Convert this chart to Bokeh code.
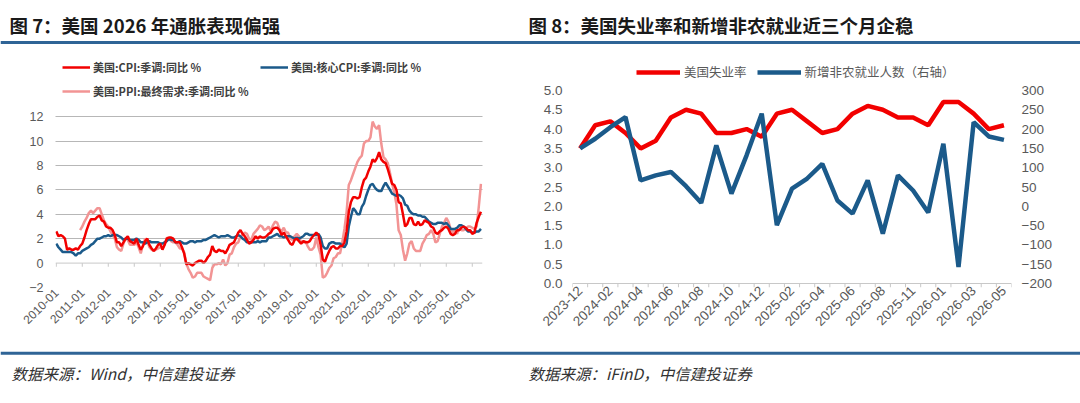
import math
from bokeh.plotting import figure
from bokeh.models import (Range1d, LinearAxis, FixedTicker, Legend, LegendItem, Span,
                          ColumnDataSource)
from bokeh.layouts import column, row
from bokeh.embed import file_html
from bokeh.resources import INLINE
from bokeh.core.properties import value

# ---------------- data: figure 7 (monthly, 2010-01 .. 2026-05) ----------------
cpi_yoy = [
    2.6, 2.2, 2.3, 2.2, 2.0, 1.1, 1.2, 1.1, 1.1, 1.2, 1.1, 1.4,
    1.6, 2.1, 2.7, 3.2, 3.6, 3.6, 3.6, 3.8, 3.9, 3.5, 3.4, 3.0,
    2.9, 2.9, 2.7, 2.3, 1.7, 1.7, 1.4, 1.7, 2.0, 2.2, 1.8, 1.7,
    1.6, 2.0, 1.5, 1.1, 1.4, 1.8, 2.0, 1.5, 1.2, 1.0, 1.2, 1.5,
    1.6, 1.1, 1.5, 2.0, 2.1, 2.1, 2.0, 1.7, 1.7, 1.7, 1.3, 0.8,
    -0.1, 0.0, -0.1, -0.2, 0.0, 0.1, 0.2, 0.2, 0.0, 0.2, 0.5, 0.7,
    1.4, 1.0, 0.9, 1.1, 1.0, 1.0, 0.8, 1.1, 1.5, 1.6, 1.7, 2.1,
    2.5, 2.7, 2.4, 2.2, 1.9, 1.6, 1.7, 1.9, 2.2, 2.0, 2.2, 2.1,
    2.1, 2.2, 2.4, 2.5, 2.8, 2.9, 2.9, 2.7, 2.3, 2.5, 2.2, 1.9,
    1.6, 1.5, 1.9, 2.0, 1.8, 1.6, 1.8, 1.7, 1.7, 1.8, 2.1, 2.3,
    2.5, 2.3, 1.5, 0.3, 0.1, 0.6, 1.0, 1.3, 1.4, 1.2, 1.2, 1.4,
    1.4, 1.7, 2.6, 4.2, 5.0, 5.4, 5.4, 5.3, 5.4, 6.2, 6.8, 7.0,
    7.5, 7.9, 8.5, 8.3, 8.6, 9.1, 8.5, 8.3, 8.2, 7.7, 7.1, 6.5,
    6.4, 6.0, 5.0, 4.9, 4.0, 3.0, 3.2, 3.7, 3.7, 3.2, 3.1, 3.4,
    3.1, 3.2, 3.5, 3.4, 3.3, 3.0, 2.9, 2.5, 2.4, 2.6, 2.7, 2.9,
    3.0, 2.8, 2.4, 2.3, 2.4, 2.7, 2.7, 2.9, 3.0, 2.9, 2.7, 2.7,
    2.4, 2.5, 3.3, 3.8, 4.2,
]
core_cpi_yoy = [
    1.6, 1.3, 1.1, 0.9, 0.9, 0.9, 0.9, 0.9, 0.8, 0.6, 0.8, 0.8,
    1.0, 1.1, 1.2, 1.3, 1.5, 1.6, 1.8, 2.0, 2.0, 2.1, 2.2, 2.2,
    2.3, 2.2, 2.3, 2.3, 2.3, 2.2, 2.1, 1.9, 2.0, 2.0, 1.9, 1.9,
    1.9, 2.0, 1.9, 1.7, 1.7, 1.6, 1.7, 1.8, 1.7, 1.7, 1.7, 1.7,
    1.6, 1.6, 1.7, 1.8, 2.0, 1.9, 1.9, 1.7, 1.7, 1.8, 1.7, 1.6,
    1.6, 1.7, 1.8, 1.8, 1.7, 1.8, 1.8, 1.8, 1.9, 1.9, 2.0, 2.1,
    2.2, 2.3, 2.2, 2.1, 2.2, 2.2, 2.2, 2.3, 2.2, 2.1, 2.1, 2.2,
    2.3, 2.2, 2.0, 1.9, 1.7, 1.7, 1.7, 1.7, 1.7, 1.8, 1.7, 1.8,
    1.8, 1.8, 2.1, 2.1, 2.2, 2.3, 2.4, 2.2, 2.2, 2.1, 2.2, 2.2,
    2.2, 2.1, 2.0, 2.1, 2.0, 2.1, 2.2, 2.4, 2.4, 2.3, 2.3, 2.3,
    2.3, 2.4, 2.1, 1.4, 1.2, 1.2, 1.6, 1.7, 1.7, 1.6, 1.6, 1.6,
    1.4, 1.3, 1.6, 3.0, 3.8, 4.5, 4.3, 4.0, 4.0, 4.6, 4.9, 5.5,
    6.0, 6.4, 6.5, 6.2, 6.0, 5.9, 5.9, 6.3, 6.6, 6.3, 6.0, 5.7,
    5.6, 5.5, 5.6, 5.5, 5.3, 4.8, 4.7, 4.3, 4.1, 4.0, 4.0, 3.9,
    3.9, 3.8, 3.8, 3.6, 3.4, 3.3, 3.2, 3.2, 3.3, 3.3, 3.3, 3.2,
    3.3, 3.1, 2.8, 2.8, 2.8, 2.9, 3.1, 3.1, 3.0, 2.8, 2.6, 2.6,
    2.5, 2.5, 2.6, 2.6, 2.8,
]
# PPI final demand starts 2010-12
ppi_fd_yoy = [
    2.7,
    3.0, 3.4, 3.7, 4.1, 4.3, 4.1, 4.3, 4.5, 4.5, 4.0, 3.5, 3.2,
    3.0, 2.6, 2.3, 2.0, 1.3, 1.1, 1.0, 1.6, 2.0, 1.9, 1.5, 1.5,
    1.5, 1.7, 1.3, 0.8, 1.5, 2.0, 1.8, 1.3, 1.1, 1.0, 1.1, 1.2,
    1.3, 1.2, 1.5, 2.1, 2.0, 1.8, 1.7, 1.7, 1.5, 1.2, 1.2, 0.9,
    0.0, -0.5, -0.8, -1.2, -1.1, -0.8, -0.8, -0.8, -1.1, -1.2, -1.3, -1.4,
    -0.4, -0.1, -0.1, 0.0, -0.1, 0.3, -0.2, 0.0, 0.7, 0.8, 1.3, 1.6,
    1.7, 2.2, 2.3, 2.5, 2.4, 2.0, 1.9, 2.4, 2.6, 2.8, 3.1, 3.0,
    2.7, 2.8, 3.0, 2.6, 3.1, 3.4, 3.3, 2.8, 2.6, 2.9, 2.5, 2.5,
    2.0, 1.9, 2.2, 2.4, 2.2, 1.7, 1.7, 1.8, 1.4, 1.1, 1.1, 1.3,
    2.1, 1.3, 0.7, -1.2, -1.1, -0.8, -0.4, -0.2, 0.4, 0.5, 0.8, 0.8,
    1.7, 2.8, 4.2, 6.4, 6.8, 7.3, 7.8, 8.3, 8.6, 8.8, 9.8, 10.0,
    10.0, 10.3, 11.6, 11.2, 11.0, 11.3, 9.8, 8.7, 8.5, 8.2, 7.4, 6.5,
    5.8, 4.8, 2.7, 2.3, 1.1, 0.2, 0.8, 1.6, 1.8, 1.2, 1.0, 1.0,
    1.0, 1.6, 1.9, 2.3, 2.4, 2.7, 2.4, 1.7, 1.8, 2.4, 3.0, 3.3,
    3.7, 3.4, 2.8, 2.5, 2.7, 2.4, 3.1, 2.7, 2.7, 2.8, 3.0, 3.0,
    2.9, 2.8, 3.0, 4.6, 6.5,
]
year_ticks = list(range(2010, 2027))
left_y_ticks = [-2, 0, 2, 4, 6, 8, 10, 12]

# ---------------- data: figure 8 ----------------
months = ["2023-12", "2024-01", "2024-02", "2024-03", "2024-04", "2024-05", "2024-06",
          "2024-07", "2024-08", "2024-09", "2024-10", "2024-11", "2024-12", "2025-01",
          "2025-02", "2025-03", "2025-04", "2025-05", "2025-06", "2025-07", "2025-08",
          "2025-09", "2025-11", "2025-12", "2026-01", "2026-02", "2026-03", "2026-04",
          "2026-05"]
unemployment = [3.5, 4.1, 4.2, 3.9, 3.5, 3.7, 4.3, 4.5, 4.4, 3.9, 3.9, 4.0, 3.8, 4.4,
                4.5, 4.2, 3.9, 4.0, 4.4, 4.6, 4.5, 4.3, 4.3, 4.1, 4.7, 4.7, 4.4, 4.0, 4.1]
nonfarm = [150, 175, 205, 231, 67, 80, 89, 52, 9, 158, 33, 132, 240, -49, 46, 72, 110,
           15, -19, 67, -71, 80, 41, -16, 162, -157, 218, 181, 172]
right_left_ticks = [0, 0.5, 1.0, 1.5, 2.0, 2.5, 3.0, 3.5, 4.0, 4.5, 5.0]
right_right_ticks = [-200, -150, -100, -50, 0, 50, 100, 150, 200, 250, 300]

# ---------------- styles ----------------
RED = "#f20000"
BLUE = "#1b5a8a"
PINK = "#f29494"
GRAY_TXT = "#595959"
AXIS_GRAY = "#c8c8c8"
RULE = "#2f6496"
CJK = "Noto Sans CJK SC"
LAT = "Liberation Sans"

# shared frame geometry for both charts (row height 302, frame 232 px tall)
TOP_B, BOT_B, FRAME_H = 7, 63, 232


def bare(p):
    p.xaxis.visible = False
    p.yaxis.visible = False
    p.xgrid.visible = False
    p.ygrid.visible = False
    p.outline_line_color = None


def plain_axis(ax, size):
    ax.axis_line_color = None
    ax.major_tick_out = 0
    ax.major_tick_in = 0
    ax.minor_tick_out = 0
    ax.minor_tick_in = 0
    ax.major_label_text_font = LAT
    ax.major_label_text_font_size = size
    ax.major_label_text_color = GRAY_TXT


# ---------------- header ----------------
hdr = figure(width=1080, height=48, x_range=Range1d(0, 1080), y_range=Range1d(48, 0),
             toolbar_location=None, output_backend="svg", min_border=0)
bare(hdr)
hdr.text(x=[9, 528], y=[24, 24],
         text=["图 7：美国 2026 年通胀表现偏强", "图 8：美国失业率和新增非农就业近三个月企稳"],
         text_font=value(CJK), text_font_style="bold", text_font_size="18.5px",
         text_color="#1a1a1a", text_baseline="middle", text_align="left")
hdr.quad(left=[0], right=[1080], top=[40.5], bottom=[43.5], color=RULE, line_color=None)

# ---------------- left chart ----------------
xs_all = [2010 + i / 12 for i in range(len(cpi_yoy))]
xs_ppi = [2010 + 11 / 12 + i / 12 for i in range(len(ppi_fd_yoy))]

lp = figure(width=540, height=302, toolbar_location=None, output_backend="svg",
            x_range=Range1d(2009.97, 2009.97 + 427 / 26),
            y_range=Range1d(-2, -2 + FRAME_H / 12.2),
            min_border_left=55, min_border_right=58, min_border_top=TOP_B,
            min_border_bottom=BOT_B)
lp.outline_line_color = None
lp.xgrid.visible = False
lp.ygrid.ticker = FixedTicker(ticks=[t for t in left_y_ticks if t != 0])
lp.ygrid.grid_line_color = "#6f6f6f"
lp.ygrid.grid_line_dash = "1 1"
lp.ygrid.grid_line_width = 1

lp.add_layout(Span(location=0, dimension="width", line_color=AXIS_GRAY, line_width=1))
lp.segment(x0=year_ticks, y0=[0] * len(year_ticks), x1=year_ticks, y1=[-0.3] * len(year_ticks),
           line_color=AXIS_GRAY, line_width=1)

r_ppi = lp.line(xs_ppi, ppi_fd_yoy, line_color=PINK, line_width=2.5)
r_core = lp.line(xs_all, core_cpi_yoy, line_color=BLUE, line_width=2.5)
r_cpi = lp.line(xs_all, cpi_yoy, line_color=RED, line_width=2.5)

xa = lp.xaxis[0]
plain_axis(xa, "12px")
xa.ticker = FixedTicker(ticks=year_ticks)
xa.major_label_overrides = {y: f"{y}-01" for y in year_ticks}
xa.major_label_orientation = math.pi / 4
xa.major_label_standoff = 3

ya = lp.yaxis[0]
plain_axis(ya, "12.5px")
ya.ticker = FixedTicker(ticks=left_y_ticks)
ya.major_label_standoff = 12


def one_legend(p, r, label, x, y):
    leg = Legend(items=[LegendItem(label=label, renderers=[r])], location=(x, y),
                 orientation="horizontal", padding=0, margin=0, spacing=0,
                 glyph_width=28, glyph_height=16, label_height=16, label_standoff=3,
                 border_line_color=None, background_fill_alpha=0,
                 label_text_font=CJK, label_text_font_size="11px",
                 label_text_color="#404040", label_text_font_style="bold")
    p.add_layout(leg)


one_legend(lp, r_cpi, "美国:CPI:季调:同比 %", 7, FRAME_H - 12 - 8)
one_legend(lp, r_core, "美国:核心CPI:季调:同比 %", 205, FRAME_H - 12 - 8)
one_legend(lp, r_ppi, "美国:PPI:最终需求:季调:同比 %", 7, FRAME_H - 36 - 8)

# ---------------- right chart ----------------
# frame bottom sits at abs y=287; the zero of the left axis sits at abs y=283
PX_PER_UNIT = 38.6
y0 = -4 / PX_PER_UNIT
y1 = y0 + FRAME_H / PX_PER_UNIT
idx = list(range(len(months)))
bounds = [i - 0.5 for i in idx] + [idx[-1] + 0.5]
src = ColumnDataSource(dict(x=idx, u=unemployment, n=nonfarm))
rp = figure(width=540, height=302, toolbar_location=None, output_backend="svg",
            x_range=Range1d(-0.5, len(months) - 0.5), y_range=Range1d(y0, y1),
            min_border_left=28, min_border_right=69, min_border_top=TOP_B,
            min_border_bottom=BOT_B)
rp.extra_y_ranges = {"nfp": Range1d(-200 + y0 * 100, -200 + y1 * 100)}
rp.outline_line_color = None
rp.xgrid.visible = False
rp.ygrid.visible = False

# category axis line at 0 with tick marks between categories
rp.add_layout(Span(location=0, dimension="width", line_color=AXIS_GRAY, line_width=1))
rp.segment(x0=bounds, y0=[0] * len(bounds), x1=bounds, y1=[y0] * len(bounds),
           line_color=AXIS_GRAY, line_width=1)

r_u = rp.line("x", "u", source=src, line_color=RED, line_width=4.5)
r_n = rp.line("x", "n", source=src, line_color=BLUE, line_width=4.5, y_range_name="nfp")

bx = rp.xaxis[0]
plain_axis(bx, "13.5px")
bx.ticker = FixedTicker(ticks=idx[::2])
bx.major_label_overrides = {i: months[i] for i in idx[::2]}
bx.major_label_orientation = math.pi / 4
bx.major_label_standoff = 1

ly = rp.yaxis[0]
plain_axis(ly, "13.5px")
ly.ticker = FixedTicker(ticks=right_left_ticks)
ly.major_label_overrides = {t: f"{t:.1f}" for t in right_left_ticks}
ly.major_label_standoff = 10

ry = LinearAxis(y_range_name="nfp", ticker=FixedTicker(ticks=right_right_ticks))
plain_axis(ry, "13.5px")
ry.major_label_standoff = 10
rp.add_layout(ry, "right")

rleg = Legend(items=[LegendItem(label="美国失业率", renderers=[r_u]),
                     LegendItem(label="新增非农就业人数（右轴）", renderers=[r_n])],
              location=(64, FRAME_H - 10 - 16), orientation="horizontal", padding=0, margin=0,
              spacing=10, glyph_width=44, glyph_height=16, label_height=16, label_standoff=4,
              border_line_color=None, background_fill_alpha=0,
              label_text_font=CJK, label_text_font_size="12.5px", label_text_color=GRAY_TXT)
rp.add_layout(rleg)

# ---------------- footer ----------------
ftr = figure(width=1080, height=53, x_range=Range1d(0, 1080), y_range=Range1d(53, 0),
             toolbar_location=None, output_backend="svg", min_border=0)
bare(ftr)
ftr.quad(left=[0], right=[1080], top=[1.3], bottom=[4.3], color=RULE, line_color=None)
ftr.text(x=[11, 528], y=[22, 22], text=["数据来源：Wind，中信建投证券", "数据来源：iFinD，中信建投证券"],
         text_font=value(CJK), text_font_style="italic", text_font_size="15.5px",
         text_color="#333333", text_baseline="middle", text_align="left")

layout = column(hdr, row(lp, rp, spacing=0), ftr, spacing=0)
open("out.html", "w").write(file_html(layout, INLINE))
